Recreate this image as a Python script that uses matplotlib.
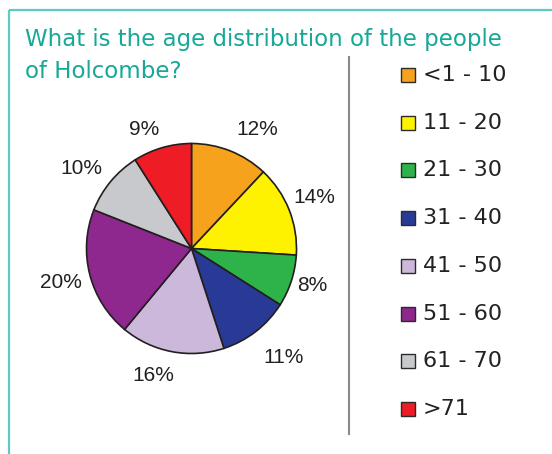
import matplotlib
matplotlib.use("Agg")
import matplotlib.pyplot as plt
from matplotlib.patches import Rectangle

# age groups of Holcombe, share of people in %
groups = ["<1 - 10", "11 - 20", "21 - 30", "31 - 40", "41 - 50", "51 - 60", "61 - 70", ">71"]
shares = [12, 14, 8, 11, 16, 20, 10, 9]
colours = ["#f6a21c", "#fff200", "#2db34a", "#283a96", "#cbb8da", "#8e278e", "#c8c9cc", "#ee1c25"]

title_lines = ["What is the age distribution of the people", "of Holcombe?"]

# small hand nudges (px, right/down) of the % labels off their default spot
label_nudge = [(16, 8), (-4, -1), (-9, -5), (8, 1), (-13, -7), (2, 0), (-5, 7), (-9, 12)]

W, H = 552, 454
fig = plt.figure(figsize=(W / 100, H / 100), dpi=100)

# background axes in pixel coordinates for frame, title and legend
bg = fig.add_axes([0, 0, 1, 1])
bg.set_xlim(0, W)
bg.set_ylim(H, 0)
bg.axis("off")

teal = "#5ccbc0"
bg.plot([9, W], [10, 10], color=teal, lw=1.6, solid_capstyle="butt")
bg.plot([9, 9], [10, H], color=teal, lw=1.6, solid_capstyle="butt")
bg.plot([349, 349], [57, 434], color="#8a8a8a", lw=1.5)

for i, line in enumerate(title_lines):
    bg.text(25, 46 + i * 32, line, color="#17a898", fontsize=16.5,
            family="DejaVu Sans", va="baseline", ha="left")

for i, (g, c) in enumerate(zip(groups, colours)):
    y = 75 + i * 47.7
    bg.add_patch(Rectangle((401, y - 7), 14, 14, facecolor=c, edgecolor="#2b2b2b", lw=1))
    bg.text(423, y, g, fontsize=16, color="#222222", family="DejaVu Sans",
            va="center", ha="left")

# pie
cx, cy, r = 191.5, 248.5, 105
ax = fig.add_axes([(cx - r) / W, (H - cy - r) / H, 2 * r / W, 2 * r / H])
wedges, texts, autotexts = ax.pie(
    shares, colors=colours, startangle=90, counterclock=False,
    autopct="%d%%", pctdistance=1.3,
    wedgeprops=dict(edgecolor="#231f20", linewidth=1.2),
)
for t, (dx, dy) in zip(autotexts, label_nudge):
    x, y = t.get_position()
    t.set_position((x + dx / r, y - dy / r))
    t.set_fontfamily("Liberation Sans")
    t.set_fontsize(15)
    t.set_color("#231f20")
ax.set_xlim(-1, 1)
ax.set_ylim(-1, 1)
ax.set_aspect("equal")

fig.savefig("out.png", dpi=100)
